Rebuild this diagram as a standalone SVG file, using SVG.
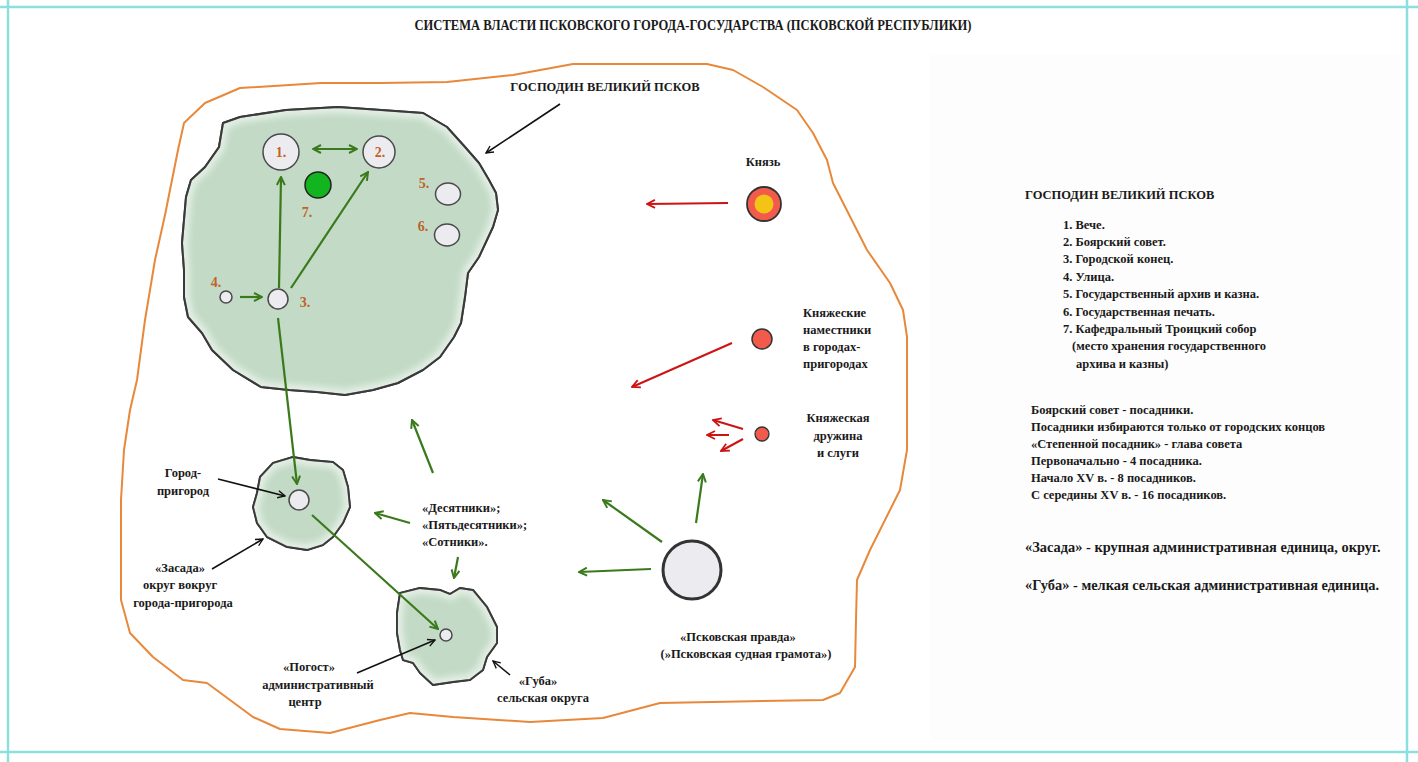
<svg xmlns="http://www.w3.org/2000/svg" width="1418" height="762" viewBox="0 0 1418 762">
<style>
.t{font-family:"Liberation Serif","DejaVu Serif",serif;font-weight:bold;font-size:12.5px;fill:#1a1a1a}
.big{font-size:14.4px}
.ttl{font-size:15px}
.num{font-family:"Liberation Serif","DejaVu Serif",serif;font-weight:bold;font-size:14px;fill:#c0622a}
.blob{fill:#c3dbc6;stroke:#3a3a3a;stroke-width:2;stroke-linejoin:round}
.glow{fill:none;stroke:#ffffff;stroke-width:12;opacity:0.55}
.wc{fill:#ececf0;stroke:#4a4a4a;stroke-width:1.5}
.g{stroke:#3b7a1c;stroke-width:2.2;fill:none;marker-end:url(#ag)}
.r{stroke:#cc1414;stroke-width:2;fill:none;marker-end:url(#ar)}
.k{stroke:#111;stroke-width:1.6;fill:none;marker-end:url(#ak)}
.teal{stroke:#8ddfde;stroke-width:2.5}
</style>
<defs>
<marker id="ag" markerUnits="userSpaceOnUse" viewBox="0 0 10 10" markerWidth="10" markerHeight="10" refX="9" refY="5" orient="auto-start-reverse"><path d="M1,1 L9,5 L1,9" fill="none" stroke="#3b7a1c" stroke-width="2"/></marker>
<marker id="ar" markerUnits="userSpaceOnUse" viewBox="0 0 10 10" markerWidth="10" markerHeight="10" refX="9" refY="5" orient="auto"><path d="M1,1 L9,5 L1,9" fill="none" stroke="#cc1414" stroke-width="1.8"/></marker>
<marker id="ak" markerUnits="userSpaceOnUse" viewBox="0 0 10 10" markerWidth="9" markerHeight="9" refX="9" refY="5" orient="auto"><path d="M1,1 L9,5 L1,9" fill="none" stroke="#111" stroke-width="1.5"/></marker>
<filter id="bl" x="-10%" y="-10%" width="120%" height="120%"><feGaussianBlur stdDeviation="3"/></filter>
<path id="p1" d="M223,123 L240,117 L286,110 L338,107 L381,110 L423,113 L447,127 L465,147 L479,163 L489,180 L496,193 L498,210 L493,227 L479,257 L468,273 L465,297 L461,323 L454,337 L440,357 L423,370 L398,383 L373,390 L345,395 L317,392 L289,390 L261,387 L233,370 L212,350 L202,333 L188,317 L184,297 L184,270 L182,243 L184,220 L186,197 L191,180 L205,167 L219,147 Z"/>
<path id="p2" d="M257,493 L260,477 L273,463 L293,457 L310,460 L333,462 L343,470 L348,487 L350,507 L343,523 L333,537 L323,545 L307,550 L287,547 L267,537 L257,523 L253,507 Z"/>
<path id="p3" d="M400,593 L420,588 L440,590 L450,594 L460,588 L473,590 L487,607 L497,627 L497,643 L487,657 L483,670 L470,680 L453,682 L433,685 L420,673 L413,663 L403,660 L400,650 L397,633 L397,613 Z"/>
<clipPath id="c1"><use href="#p1"/></clipPath>
<clipPath id="c2"><use href="#p2"/></clipPath>
<clipPath id="c3"><use href="#p3"/></clipPath>
</defs>
<rect width="1418" height="762" fill="#ffffff"/>
<rect x="930" y="55" width="470" height="685" fill="#fdfdfd"/>
<g id="frame">
<line class="teal" x1="0" y1="7" x2="1418" y2="7"/>
<line class="teal" x1="0" y1="752" x2="1418" y2="752"/>
<line class="teal" x1="8" y1="0" x2="8" y2="762"/>
<line class="teal" x1="1407" y1="0" x2="1407" y2="762"/>
</g>
<text class="t ttl" x="693" y="30" text-anchor="middle" textLength="557" lengthAdjust="spacingAndGlyphs">СИСТЕМА  ВЛАСТИ  ПСКОВСКОГО  ГОРОДА-ГОСУДАРСТВА  (ПСКОВСКОЙ  РЕСПУБЛИКИ)</text>
<g id="pskov-outline">
<path d="M184,123 L205,103 L240,88 L321,83 L380,83 L447,82 L513,75 L573,64 L707,64 L733,70 L763,87 L797,110 L813,133 L827,160 L833,183 L867,250 L890,283 L903,310 L907,337 L907,450 L900,490 L870,550 L857,580 L856,620 L855,667 L840,693 L823,700 L660,703 L603,718 L530,722 L453,717 L410,713 L380,720 L330,733 L280,729 L253,717 L230,700 L207,683 L183,680 L153,657 L130,633 L121,600 L121,500 L124,450 L130,410 L137,380 L145,320 L155,260 L165,215 L172,180 L178,150 Z" fill="none" stroke="#e8883a" stroke-width="2" stroke-linejoin="round"/>
<text class="t" x="605" y="91" text-anchor="middle">ГОСПОДИН ВЕЛИКИЙ ПСКОВ</text>
</g>
<g id="city">
<use href="#p1" class="blob"/>
<g clip-path="url(#c1)"><use href="#p1" class="glow" filter="url(#bl)"/></g>
<use href="#p1" fill="none" stroke="#3a3a3a" stroke-width="2"/>
</g>
<g id="suburb">
<use href="#p2" class="blob"/>
<g clip-path="url(#c2)"><use href="#p2" class="glow" filter="url(#bl)"/></g>
<use href="#p2" fill="none" stroke="#3a3a3a" stroke-width="1.8"/>
<circle class="wc" cx="299" cy="500" r="10"/>
<text class="t" x="183" y="477" text-anchor="middle">Город-</text>
<text class="t" x="183" y="495" text-anchor="middle">пригород</text>
<text class="t" x="180" y="572" text-anchor="middle">«Засада»</text>
<text class="t" x="180" y="589" text-anchor="middle">округ вокруг</text>
<text class="t" x="183" y="607" text-anchor="middle">города-пригорода</text>
</g>
<g id="guba">
<use href="#p3" class="blob"/>
<g clip-path="url(#c3)"><use href="#p3" class="glow" filter="url(#bl)"/></g>
<use href="#p3" fill="none" stroke="#3a3a3a" stroke-width="1.8"/>
<circle class="wc" cx="446" cy="635" r="6"/>
<text class="t" x="309" y="671" text-anchor="middle">«Погост»</text>
<text class="t" x="318" y="689" text-anchor="middle">административный</text>
<text class="t" x="305" y="706" text-anchor="middle">центр</text>
<text class="t" x="538" y="685" text-anchor="middle">«Губа»</text>
<text class="t" x="543" y="702" text-anchor="middle">сельская округа</text>
</g>
<g id="n1"><circle class="wc" cx="281" cy="152" r="18"/><text class="num" x="281" y="157" text-anchor="middle">1.</text></g>
<g id="n2"><circle class="wc" cx="379" cy="152" r="16"/><text class="num" x="380" y="157" text-anchor="middle">2.</text></g>
<g id="n3"><circle class="wc" cx="278" cy="299" r="10"/><text class="num" x="305" y="307" text-anchor="middle">3.</text></g>
<g id="n4"><circle class="wc" cx="226" cy="297" r="6"/><text class="num" x="216" y="287" text-anchor="middle">4.</text></g>
<g id="n5"><ellipse class="wc" cx="448" cy="194" rx="12.5" ry="11"/><text class="num" x="424" y="188" text-anchor="middle">5.</text></g>
<g id="n6"><ellipse class="wc" cx="447" cy="235" rx="12.5" ry="11"/><text class="num" x="423" y="231" text-anchor="middle">6.</text></g>
<g id="n7"><circle cx="318" cy="185" r="13" fill="#12b51f" stroke="#222" stroke-width="1.5"/><text class="num" x="307" y="217" text-anchor="middle">7.</text></g>
<g id="knyaz">
<circle cx="764" cy="204" r="17" fill="#f25a4c" stroke="#333" stroke-width="1.8"/>
<circle cx="764" cy="204" r="9.5" fill="#f3c316"/>
<text class="t" x="763" y="166" text-anchor="middle">Князь</text>
</g>
<g id="namestniki">
<circle cx="762" cy="339" r="10" fill="#f25a4c" stroke="#333" stroke-width="1.5"/>
<text class="t" x="803" y="317">Княжеские</text>
<text class="t" x="803" y="334">наместники</text>
<text class="t" x="803" y="351">в городах-</text>
<text class="t" x="803" y="368">пригородах</text>
</g>
<g id="druzhina">
<circle cx="762" cy="434" r="7" fill="#f25a4c" stroke="#333" stroke-width="1.3"/>
<text class="t" x="838" y="422" text-anchor="middle">Княжеская</text>
<text class="t" x="838" y="440" text-anchor="middle">дружина</text>
<text class="t" x="838" y="457" text-anchor="middle">и слуги</text>
</g>
<g id="desyatniki">
<text class="t" x="422" y="512">«Десятники»;</text>
<text class="t" x="422" y="529">«Пятьдесятники»;</text>
<text class="t" x="422" y="546">«Сотники».</text>
</g>
<g id="pravda">
<circle cx="692" cy="570" r="29" fill="#ececf0" stroke="#333" stroke-width="3"/>
<text class="t" x="738" y="641" text-anchor="middle">«Псковская правда»</text>
<text class="t" x="746" y="658" text-anchor="middle">(»Псковская судная грамота»)</text>
</g>
<g id="connectors">
<path class="g" d="M313,149 L357,149" marker-start="url(#ag)"/>
<path class="g" d="M240,297 L262,297"/>
<path class="g" d="M279,288 L281,177"/>
<path class="g" d="M291,288 L368,172"/>
<path class="g" d="M278,318 L297,484"/>
<path class="g" d="M312,515 L438,629"/>
<path class="g" d="M433,473 L412,420"/>
<path class="g" d="M410,523 L375,513"/>
<path class="g" d="M458,557 L454,578"/>
<path class="g" d="M662,542 L603,500"/>
<path class="g" d="M651,569 L579,572"/>
<path class="g" d="M696,523 L703,474"/>
<path class="r" d="M728,203 L647,204"/>
<path class="r" d="M732,343 L632,387"/>
<path class="r" d="M743,429 L713,420"/>
<path class="r" d="M729,435 L707,435"/>
<path class="r" d="M743,439 L721,451"/>
<path class="k" d="M560,104 L486,153"/>
<path class="k" d="M218,479 L285,496"/>
<path class="k" d="M212,569 L263,539"/>
<path class="k" d="M357,673 L435,640"/>
<path class="k" d="M510,675 L493,661"/>
</g>
<g id="legend">
<text class="t" x="1025" y="199">ГОСПОДИН ВЕЛИКИЙ  ПСКОВ</text>
<text class="t" x="1063" y="229">1. Вече.</text>
<text class="t" x="1063" y="246">2. Боярский совет.</text>
<text class="t" x="1063" y="263">3. Городской конец.</text>
<text class="t" x="1063" y="281">4. Улица.</text>
<text class="t" x="1063" y="298">5. Государственный архив и казна.</text>
<text class="t" x="1063" y="316">6. Государственная печать.</text>
<text class="t" x="1063" y="333">7. Кафедральный Троицкий собор</text>
<text class="t" x="1072" y="350">(место хранения государственного</text>
<text class="t" x="1076" y="368">архива и казны)</text>
<text class="t" x="1031" y="414">Боярский совет  - посадники.</text>
<text class="t" x="1031" y="431">Посадники избираются только от городских концов</text>
<text class="t" x="1031" y="448">«Степенной посадник» - глава совета</text>
<text class="t" x="1031" y="465">Первоначально - 4 посадника.</text>
<text class="t" x="1031" y="482">Начало XV в. - 8 посадников.</text>
<text class="t" x="1031" y="499">С середины  XV в. - 16  посадников.</text>
<text class="t big" x="1025" y="552">«Засада» - крупная административная единица, округ.</text>
<text class="t big" x="1025" y="590">«Губа» - мелкая  сельская административная единица.</text>
</g>
</svg>
